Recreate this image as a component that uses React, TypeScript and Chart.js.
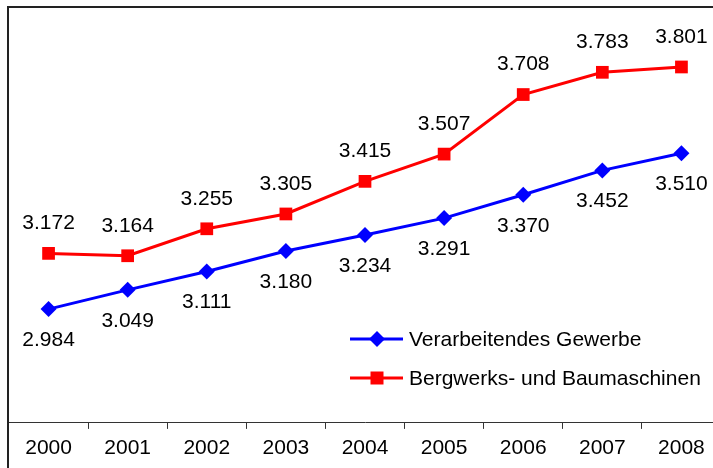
import React, { useEffect, useRef } from "react";
import { Chart, registerables } from "chart.js";

Chart.register(...registerables);

const years = ["2000", "2001", "2002", "2003", "2004", "2005", "2006", "2007", "2008"];
const verarbeitendes = [2984, 3049, 3111, 3180, 3234, 3291, 3370, 3452, 3510];
const bergwerks = [3172, 3164, 3255, 3305, 3415, 3507, 3708, 3783, 3801];
const seriesNames = ["Verarbeitendes Gewerbe", "Bergwerks- und Baumaschinen"];
const yMin = 2600;
const yMax = 4000;

const FONT = '"Liberation Sans", Arial, sans-serif';
const BLUE = "#0000FF";
const RED = "#FF0000";

function fmt(v: number): string {
  const th = Math.floor(v / 1000);
  const rest = String(v % 1000).padStart(3, "0");
  return th + "." + rest;
}

const labelPlugin = {
  id: "valueLabels",
  afterDatasetsDraw(chart: any) {
    const ctx = chart.ctx;
    ctx.save();
    ctx.font = `21px ${FONT}`;
    ctx.fillStyle = "#000";
    ctx.textAlign = "center";
    ctx.textBaseline = "middle";
    chart.data.datasets.forEach((ds: any, di: number) => {
      const meta = chart.getDatasetMeta(di);
      const off = di === 0 ? 31 : -30;
      meta.data.forEach((pt: any, i: number) => {
        ctx.fillText(fmt(ds.data[i]), pt.x, pt.y + off);
      });
    });
    ctx.restore();
  },
};

const legendPlugin = {
  id: "customLegend",
  afterDraw(chart: any) {
    const ctx = chart.ctx;
    ctx.save();
    const x0 = 341;
    const x1 = 394;
    const xm = 368;
    const ys = [331, 370];
    chart.data.datasets.forEach((ds: any, di: number) => {
      const y = ys[di];
      ctx.strokeStyle = ds.borderColor;
      ctx.lineWidth = 3;
      ctx.beginPath();
      ctx.moveTo(x0, y);
      ctx.lineTo(x1, y);
      ctx.stroke();
      ctx.fillStyle = ds.borderColor;
      ctx.beginPath();
      if (di === 0) {
        const r = 8;
        ctx.moveTo(xm, y - r);
        ctx.lineTo(xm + r, y);
        ctx.lineTo(xm, y + r);
        ctx.lineTo(xm - r, y);
        ctx.closePath();
      } else {
        const s = 6.5;
        ctx.rect(xm - s, y - s, 2 * s, 2 * s);
      }
      ctx.fill();
      ctx.fillStyle = "#000";
      ctx.font = `21px ${FONT}`;
      ctx.textAlign = "left";
      ctx.textBaseline = "middle";
      ctx.fillText(ds.label, 400, y + 1);
    });
    ctx.restore();
  },
};

export default function App() {
  const ref = useRef<HTMLCanvasElement | null>(null);
  useEffect(() => {
    if (!ref.current) return;
    const chart = new Chart(ref.current, {
      type: "line",
      data: {
        labels: years,
        datasets: [
          {
            label: seriesNames[0],
            data: verarbeitendes,
            borderColor: BLUE,
            backgroundColor: BLUE,
            borderWidth: 3,
            pointStyle: "rectRot",
            pointRadius: 8,
            pointBorderWidth: 0,
            tension: 0,
          },
          {
            label: seriesNames[1],
            data: bergwerks,
            borderColor: RED,
            backgroundColor: RED,
            borderWidth: 3,
            pointStyle: "rect",
            pointRadius: 9,
            pointBorderWidth: 0,
            tension: 0,
          },
        ],
      },
      options: {
        responsive: false,
        animation: false,
        layout: { autoPadding: false, padding: { left: 0, right: 0, top: 0, bottom: 0 } },
        plugins: {
          legend: { display: false },
          tooltip: { enabled: false },
        },
        scales: {
          y: {
            display: false,
            min: yMin,
            max: yMax,
          },
          x: {
            offset: true,
            afterFit(scale: any) {
              scale.paddingLeft = 0;
              scale.paddingRight = 0;
            },
            grid: {
              display: true,
              offset: true,
              drawOnChartArea: false,
              drawTicks: true,
              tickLength: 6,
              color: "#333",
            },
            border: { display: true, color: "#333", width: 1 },
            ticks: {
              color: "#000",
              font: { family: FONT, size: 21, lineHeight: 1.1 },
              padding: 8,
              maxRotation: 0,
              autoSkip: false,
            },
          },
        },
      },
      plugins: [labelPlugin, legendPlugin],
    });
    return () => chart.destroy();
  }, []);
  return (
    <div
      style={{
        position: "absolute",
        left: 7,
        top: 6,
        width: 704,
        height: 460,
        overflow: "hidden",
        borderLeft: "2px solid #222",
        borderTop: "2px solid #222",
        background: "#fff",
      }}
    >
      <canvas ref={ref} width={712} height={460} style={{ width: 712, height: 460, display: "block" }} />
    </div>
  );
}
